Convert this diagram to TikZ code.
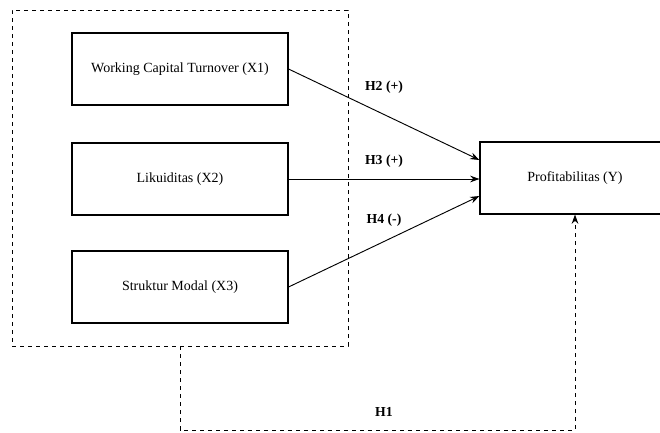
\documentclass[tikz,border=0pt]{standalone}
\usepackage{fontspec}
\setmainfont{Liberation Serif}
\usepackage{xcolor}
\usetikzlibrary{arrows.meta}

\tikzset{
  varbox/.style={draw, line width=0.8pt, minimum width=162pt, minimum height=54pt, font=\fontsize{10.5}{12}\selectfont},
  hyplabel/.style={font=\bfseries\fontsize{10.3}{12}\selectfont},
  path arrow/.style={line width=0.7pt, -{Stealth[length=7pt, width=5pt]}}
}

\begin{document}
\begin{tikzpicture}[x=0.75pt, y=-0.75pt]
\useasboundingbox (0,0) rectangle (660,432);

% independent variables
\node[draw, dashed, line width=0.7pt, minimum width=252pt, minimum height=252pt] (outer) at (180,178) {};
\node[varbox] (wct) at (180,69) {Working Capital Turnover (X1)};
\node[varbox] (lik) at (180,179) {Likuiditas (X2)};
\node[varbox] (sm)  at (180,287) {Struktur Modal (X3)};

% dependent variable
\node[varbox, minimum width=142.5pt] (prof) at (575,178) {Profitabilitas (Y)};

\draw[path arrow] (wct.east) -- ([yshift=13.5pt]prof.west);
\draw[path arrow] (lik.east) -- (lik.east -| prof.west);
\draw[path arrow] (sm.east) -- ([yshift=-13.5pt]prof.west);

\coordinate (h1a) at (180,430);
\coordinate (h1b) at (575,430);
\draw[path arrow, dashed] (outer.south) -- (h1a) -- (h1b) -- (prof.south);

\node[hyplabel] (h2) at (384,87) {H2 (+)};
\node[hyplabel] (h3) at (384,161) {H3 (+)};
\node[hyplabel] (h4) at (384,220) {H4 (-)};
\node[hyplabel] (h1) at (384,412) {H1};

\end{tikzpicture}
\end{document}
